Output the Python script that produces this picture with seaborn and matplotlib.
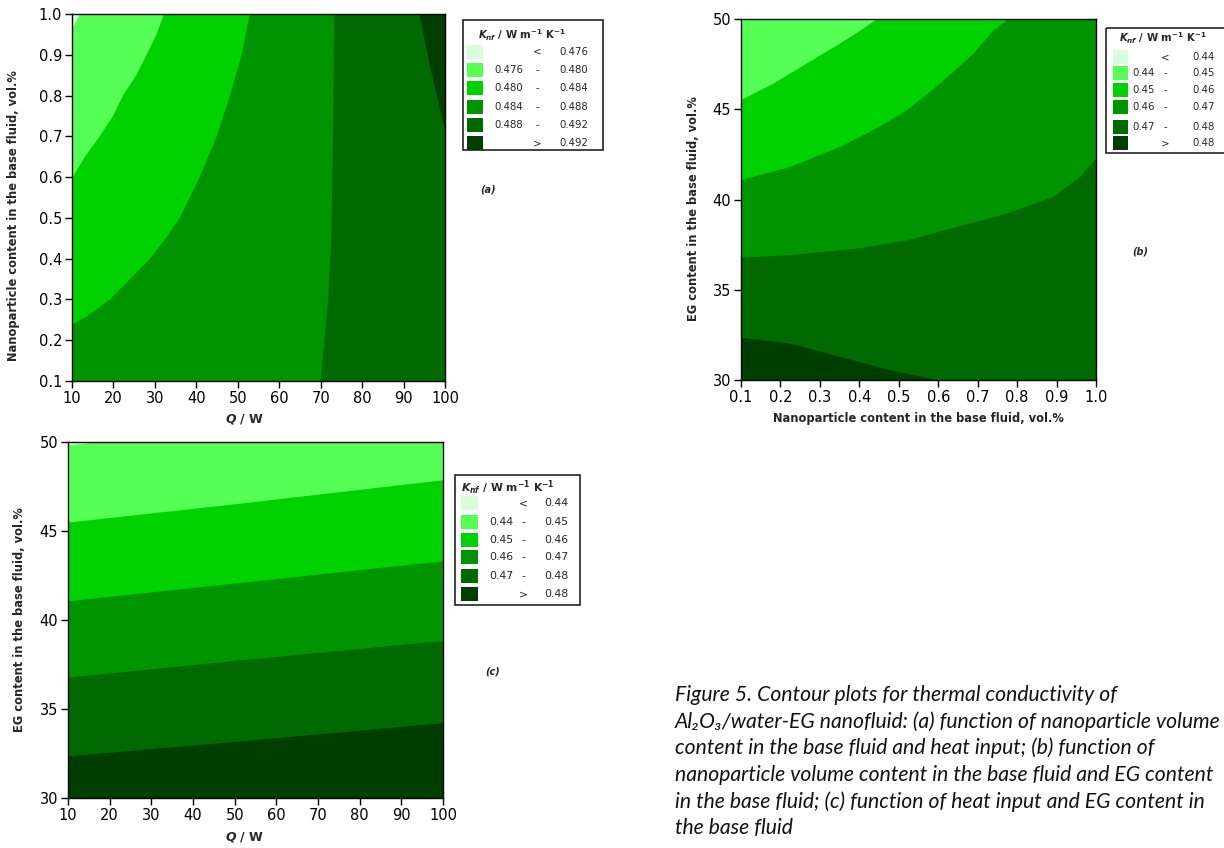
import numpy as np
import matplotlib
matplotlib.use("Agg")
import matplotlib.pyplot as plt
from matplotlib.patches import Rectangle
import seaborn as sns

sns.set_theme(style="ticks")
plt.rcParams["font.family"] = ["DejaVu Sans"]

# ---------------- data ----------------
band_colors = ["#d9fdd9", "#55ff55", "#00d200", "#009400", "#006a00", "#003e00"]

# Panel (a): Q / W vs nanoparticle content; boundaries as x(y)
a_xticks = [10, 20, 30, 40, 50, 60, 70, 80, 90, 100]
a_yticks = [0.1, 0.2, 0.3, 0.4, 0.5, 0.6, 0.7, 0.8, 0.9, 1.0]
a_levels = ["0.476", "0.480", "0.484", "0.488", "0.492"]
a_b492_x = [93.8, 95.2, 96.4, 97.7, 98.8, 100.0]
a_b492_y = [1.0, 0.93, 0.87, 0.815, 0.765, 0.716]
a_b488_x = [70.0, 70.9, 71.8, 72.6, 73.0, 73.3]
a_b488_y = [0.1, 0.2, 0.3, 0.46, 0.71, 1.0]
a_b484_x = [10.0, 13.5, 19.1, 24.0, 28.8, 32.6, 36.0, 40.8, 44.9, 48.1, 50.9, 52.9]
a_b484_y = [0.238, 0.258, 0.3, 0.35, 0.4, 0.45, 0.5, 0.6, 0.7, 0.8, 0.9, 1.0]
a_b480_x = [10.0, 13.1, 16.7, 19.9, 22.3, 25.5, 28.0, 30.4, 32.2]
a_b480_y = [0.597, 0.65, 0.7, 0.75, 0.8, 0.85, 0.9, 0.95, 1.0]
a_b476_x = [10.0, 11.9]
a_b476_y = [0.962, 1.0]

# Panel (b): nanoparticle content vs EG content
b_xticks = [0.1, 0.2, 0.3, 0.4, 0.5, 0.6, 0.7, 0.8, 0.9, 1.0]
b_yticks = [30, 35, 40, 45, 50]
b_levels = ["0.44", "0.45", "0.46", "0.47", "0.48"]
b_b48_x = [0.1, 0.225, 0.352, 0.479, 0.597]
b_b48_y = [32.35, 32.02, 31.28, 30.54, 30.0]
b_b47_x = [0.1, 0.225, 0.394, 0.521, 0.648, 0.774, 0.893, 0.960, 1.0]
b_b47_y = [36.78, 36.91, 37.28, 37.74, 38.48, 39.22, 40.15, 41.26, 42.27]
b_b46_x = [0.1, 0.225, 0.352, 0.436, 0.521, 0.605, 0.690, 0.741, 0.779]
b_b46_y = [41.07, 41.81, 42.92, 43.85, 44.95, 46.43, 48.10, 49.39, 50.0]
b_b45_x = [0.1, 0.183, 0.267, 0.352, 0.411, 0.445]
b_b45_y = [45.51, 46.43, 47.54, 48.65, 49.48, 50.0]
b_b44_x = [0.1, 0.118]
b_b44_y = [49.85, 50.0]

# Panel (c): Q / W vs EG content
c_xticks = [10, 20, 30, 40, 50, 60, 70, 80, 90, 100]
c_yticks = [30, 35, 40, 45, 50]
c_levels = ["0.44", "0.45", "0.46", "0.47", "0.48"]
c_b48_x = [10, 50, 100]
c_b48_y = [32.34, 33.15, 34.21]
c_b47_x = [10, 50, 100]
c_b47_y = [36.76, 37.70, 38.82]
c_b46_x = [10, 50, 100]
c_b46_y = [41.05, 42.05, 43.30]
c_b45_x = [10, 50, 100]
c_b45_y = [45.47, 46.50, 47.85]
c_b44_x = [10, 17.7]
c_b44_y = [49.81, 50.0]

caption_lines = [
    "Figure 5. Contour plots for thermal conductivity of",
    "Al\u2082O\u2083/water-EG nanofluid: (a) function of nanoparticle volume",
    "content in the base fluid and heat input; (b) function of",
    "nanoparticle volume content in the base fluid and EG content",
    "in the base fluid; (c) function of heat input and EG content in",
    "the base fluid",
]

# ---------------- figure ----------------
W, H = 1224, 848
fig = plt.figure(figsize=(W / 100, H / 100), dpi=100)
fig.patch.set_facecolor("white")


def px_axes(left, top, right, bottom):
    return fig.add_axes([left / W, 1 - bottom / H, (right - left) / W, (bottom - top) / H])


def band(ax, bx, by, corners, color):
    px = list(bx) + [c[0] for c in corners]
    py = list(by) + [c[1] for c in corners]
    ax.fill(px, py, color=color, lw=0, zorder=1)


def style_axes(ax, xlim, ylim, xticks, yticks, xfmt, yfmt):
    ax.set_xlim(*xlim)
    ax.set_ylim(*ylim)
    ax.set_xticks(xticks)
    ax.set_yticks(yticks)
    ax.set_xticklabels([xfmt.format(v) for v in xticks])
    ax.set_yticklabels([yfmt.format(v) for v in yticks])
    ax.tick_params(direction="out", length=5, width=1, labelsize=10.5, colors="black", pad=2)
    for s in ax.spines.values():
        s.set_visible(True)
        s.set_color("black")
        s.set_linewidth(1)
    ax.grid(False)


def legend_box(left, top, right, bottom, levels, geom):
    lax = px_axes(left, top, right, bottom)
    w, h = right - left, bottom - top
    lax.set_xlim(0, w)
    lax.set_ylim(h, 0)
    lax.axis("off")
    lax.add_patch(Rectangle((0, 0), w, h, fill=False, ec="#222222", lw=1.2, clip_on=False))
    title_y, row_y, sw_x, sw_w, sw_h, lt_x, dash_x, rt_x, fs = geom
    lax.text(w * 0.42, title_y,
             r"$\mathbfit{K}_{\mathbfit{nf}}$ / W m$^{\mathregular{-1}}$ K$^{\mathregular{-1}}$",
             ha="center", va="center", fontsize=fs, fontweight="bold")
    labels = [("", "<", levels[0])]
    for i in range(len(levels) - 1):
        labels.append((levels[i], "-", levels[i + 1]))
    labels.append(("", ">", levels[-1]))
    for i, (l, m, r) in enumerate(labels):
        y = row_y[i]
        lax.add_patch(Rectangle((sw_x, y - sw_h / 2), sw_w, sw_h, color=band_colors[i], lw=0))
        if l:
            lax.text(lt_x, y, l, ha="right", va="center", fontsize=fs)
        lax.text(dash_x, y, m, ha="center", va="center", fontsize=fs)
        lax.text(rt_x, y, r, ha="right", va="center", fontsize=fs)


# ---- panel (a)
axa = px_axes(72, 14, 445, 381)
axa.set_facecolor(band_colors[5])
band(axa, a_b492_x, a_b492_y, [(100, 0.1), (10, 0.1), (10, 1.0)], band_colors[4])
band(axa, a_b488_x, a_b488_y, [(10, 1.0), (10, 0.1)], band_colors[3])
band(axa, a_b484_x, a_b484_y, [(10, 1.0)], band_colors[2])
band(axa, a_b480_x, a_b480_y, [(10, 1.0)], band_colors[1])
band(axa, a_b476_x, a_b476_y, [(10, 1.0)], band_colors[0])
style_axes(axa, (10, 100), (0.1, 1.0), a_xticks, a_yticks, "{:d}", "{:.1f}")
axa.set_xlabel(r"$\mathbfit{Q}$ / W", fontsize=9, fontweight="bold")
axa.set_ylabel("Nanoparticle content in the base fluid, vol.%", fontsize=8.3, fontweight="bold")
axa.xaxis.set_label_coords(0.464, -0.084)
axa.yaxis.set_label_coords(-0.139, 0.452)

# ---- panel (b)
axb = px_axes(741, 19, 1096, 380)
axb.set_facecolor(band_colors[5])
band(axb, b_b48_x, b_b48_y, [(1.0, 30), (1.0, 50), (0.1, 50)], band_colors[4])
band(axb, b_b47_x, b_b47_y, [(1.0, 50), (0.1, 50)], band_colors[3])
band(axb, b_b46_x, b_b46_y, [(0.1, 50)], band_colors[2])
band(axb, b_b45_x, b_b45_y, [(0.1, 50)], band_colors[1])
band(axb, b_b44_x, b_b44_y, [(0.1, 50)], band_colors[0])
style_axes(axb, (0.1, 1.0), (30, 50), b_xticks, b_yticks, "{:.1f}", "{:d}")
axb.set_xlabel("Nanoparticle content in the base fluid, vol.%", fontsize=8.3, fontweight="bold")
axb.set_ylabel("EG content in the base fluid, vol.%", fontsize=8.3, fontweight="bold")
axb.xaxis.set_label_coords(0.5, -0.09)
axb.yaxis.set_label_coords(-0.115, 0.476)

# ---- panel (c)
axc = px_axes(68, 442, 443, 798)
axc.set_facecolor(band_colors[5])
band(axc, c_b48_x, c_b48_y, [(100, 50), (10, 50)], band_colors[4])
band(axc, c_b47_x, c_b47_y, [(100, 50), (10, 50)], band_colors[3])
band(axc, c_b46_x, c_b46_y, [(100, 50), (10, 50)], band_colors[2])
band(axc, c_b45_x, c_b45_y, [(100, 50), (10, 50)], band_colors[1])
band(axc, c_b44_x, c_b44_y, [(10, 50)], band_colors[0])
style_axes(axc, (10, 100), (30, 50), c_xticks, c_yticks, "{:d}", "{:d}")
axc.set_xlabel(r"$\mathbfit{Q}$ / W", fontsize=9, fontweight="bold")
axc.set_ylabel("EG content in the base fluid, vol.%", fontsize=8.3, fontweight="bold")
axc.xaxis.set_label_coords(0.472, -0.091)
axc.yaxis.set_label_coords(-0.111, 0.5)

# ---- legends
legend_box(463, 20, 603, 150, a_levels,
           (15, [32, 50, 68, 87, 105, 123], 4, 16, 14, 60, 74, 125, 7.3))
legend_box(1106, 28, 1240, 153, b_levels,
           (10, [29, 45, 62, 79, 99, 115], 7, 15, 14, 49, 59, 109, 7.3))
legend_box(455, 475, 580, 605, c_levels,
           (13, [28, 47, 65, 82, 101, 119], 6, 17, 14, 58, 68, 113, 7.8))

# ---- panel labels
for (x, y, t) in [(488, 190, "(a)"), (1140, 252, "(b)"), (493, 672, "(c)")]:
    fig.text(x / W, 1 - y / H, t, ha="center", va="center", fontsize=7,
             fontweight="bold", style="italic")

# ---- caption
for i, line in enumerate(caption_lines):
    fig.text(675 / W, 1 - (695 + i * 26.6) / H, line, ha="left", va="center",
             fontsize=15.2, style="italic", family=["Lato", "DejaVu Sans"], color="#111111")

fig.savefig("out.png", dpi=100)
